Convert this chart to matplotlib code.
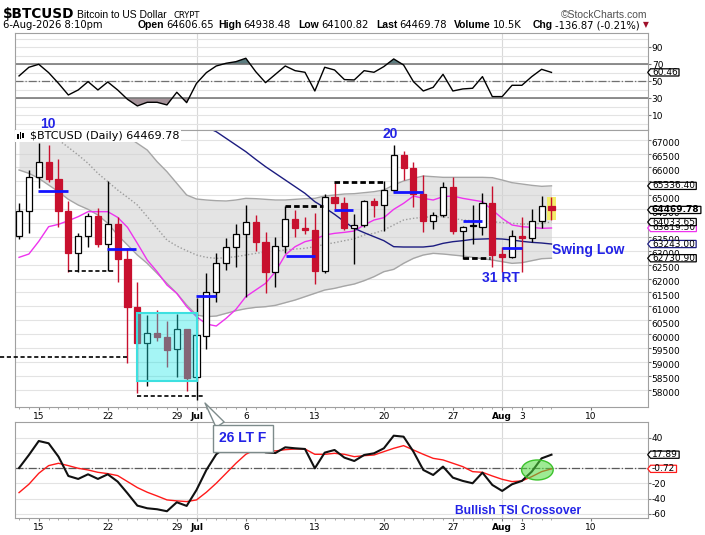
import numpy as np
import matplotlib
matplotlib.use("Agg")
import matplotlib.pyplot as plt
import matplotlib.transforms as mtransforms
from matplotlib.patches import Rectangle, Ellipse
from matplotlib.path import Path
from matplotlib.text import Annotation

plt.rcParams['font.family'] = ['DejaVu Sans']
plt.rcParams['axes.unicode_minus'] = False

# daily bars, day 0 = 13-Jun, day 54 = 6-Aug
days = list(range(55))
opens = [63543, 64419, 65643, 66183, 65583, 64443, 62907, 63531, 64239, 63243,
         63951, 62691, 60987, 59691, 60027, 59907, 59451, 60195, 58443, 59943,
         61503, 62547, 63123, 63591, 64023, 63327, 62247, 63183, 64143, 63807,
         63759, 62283, 64947, 64707, 63807, 63915, 64791, 64647, 65175, 66447,
         65991, 65043, 64083, 64299, 65307, 63723, 63915, 63867, 64731, 62883,
         62787, 63531, 63471, 64071, 64606.65]
highs = [64731, 65907, 66891, 66795, 66291, 64779, 63651, 64347, 64527, 65511,
         64227, 63111, 61890, 60687, 60867, 60483, 60723, 60195, 61287, 62211,
         62931, 63447, 63951, 64647, 64287, 63687, 63507, 64611, 64467, 64203,
         64371, 65043, 65487, 64923, 64323, 64827, 64887, 65523, 66807, 66603,
         66207, 65727, 64407, 65487, 65643, 63891, 64647, 65067, 65331, 63147,
         63747, 64227, 64491, 64971, 64938.48]
lows = [63423, 63651, 65271, 65487, 63867, 62247, 62247, 63147, 63147, 62283,
        61890, 58971, 57891, 58131, 59763, 58827, 58443, 57963, 57627, 59475,
        61167, 62307, 62427, 61347, 62991, 61491, 61683, 62907, 63507, 63603,
        61791, 62211, 64491, 63747, 62523, 63867, 64227, 63711, 65127, 65547,
        64587, 63687, 63771, 64227, 63591, 62691, 63231, 63567, 62403, 62247,
        62740, 62247, 63327, 63807, 64100.82]
closes = [64431, 65643, 66183, 65583, 64443, 62907, 63531, 64239, 63243, 63951,
          62691, 60987, 59691, 60027, 59907, 59427, 60171, 58407, 59967, 61503,
          62571, 63123, 63591, 64023, 63327, 62247, 63183, 64143, 63807, 63759,
          62283, 64947, 64707, 63807, 63915, 64791, 64647, 65175, 66447, 65991,
          65043, 64083, 64299, 65307, 63723, 63867, 63880, 64731, 62847, 62787,
          63531, 63471, 64071, 64611, 64469.78]

bb_upper = [69900, 69800, 69700, 69500, 69200, 68900, 68600, 68300, 68000, 67650,
            67287, 67107, 66867, 66627, 66207, 65847, 65427, 65007, 64863, 64827,
            64803, 64791, 64827, 64887, 64875, 64851, 64827, 64827, 64851, 64875,
            64887, 64971, 65007, 65043, 65055, 65091, 65127, 65187, 65367, 65511,
            65607, 65691, 65667, 65643, 65643, 65643, 65643, 65643, 65631, 65547,
            65451, 65403, 65355, 65319, 65336.40]
bb_mid = [67900, 67750, 67600, 67400, 66987, 66723, 66447, 66147, 65787, 65487,
          65187, 64923, 64647, 64227, 63807, 63387, 63171, 63003, 62847, 62763,
          62727, 62751, 62787, 62847, 62907, 62955, 62991, 63027, 63063, 63087,
          63147, 63231, 63291, 63363, 63435, 63567, 63627, 63747, 63927, 64107,
          64167, 64203, 64227, 64227, 64167, 64107, 64083, 64071, 64047, 64011,
          63987, 63963, 63963, 63987, 64033.65]
bb_lower = [65907, 65787, 65607, 65367, 65127, 64851, 64647, 64491, 64287, 63987,
            63567, 63207, 62847, 62547, 62187, 61827, 61467, 61047, 60687, 60627,
            60651, 60747, 60843, 60915, 60963, 60987, 61035, 61131, 61227, 61347,
            61467, 61587, 61647, 61731, 61803, 61923, 62067, 62247, 62331, 62547,
            62727, 62847, 62907, 62883, 62847, 62811, 62763, 62715, 62667, 62607,
            62547, 62571, 62643, 62715, 62730.90]
ema = [62763, 62883, 63339, 63867, 63951, 64083, 64227, 64407, 64407, 64407,
       64203, 63843, 63267, 62667, 62247, 61767, 61467, 60987, 60627, 60363,
       60291, 60567, 60891, 61347, 61587, 61827, 62247, 62847, 63147, 63327,
       63411, 63567, 63627, 63663, 63711, 63927, 64107, 64191, 64491, 64707,
       64971, 64887, 64827, 64947, 64971, 64887, 64827, 64767, 64467, 64167,
       63927, 63867, 63843, 63807, 63819.50]
sma50 = [np.nan] * 19 + [
         67443, 67287, 67047, 66807, 66567, 66291, 66027, 65787, 65547, 65307,
         65067, 64767, 64551, 64311, 64047, 63807, 63651, 63507, 63363, 63147,
         63135, 63135, 63135, 63171, 63267, 63327, 63363, 63411, 63423, 63435,
         63423, 63387, 63339, 63303, 63279, 63243.00]

rsi = [56.3, 66.5, 70, 60.2, 47.6, 33.9, 39.8, 49.6, 39.8, 49.2,
       39.8, 28.8, 21, 25.3, 25.3, 22.2, 37.1, 24.9, 47.6, 60.2,
       68, 71.2, 73.1, 77.1, 61.4, 48.4, 58.2, 68, 62.5, 60.6,
       38.6, 66.5, 63.3, 52, 51.6, 62.5, 60.6, 67.3, 76.3, 69.2,
       49.6, 38.6, 42.9, 58.2, 38.6, 41, 41.8, 55.5, 32, 32,
       45.3, 45.3, 55.5, 64.1, 60.46]
tsi = [0.4, 17.5, 35.9, 32.9, 15.3, -10.1, -14, -7.9, -14, -7.9,
       -17.5, -32.9, -49.1, -52.6, -53.9, -56.5, -44.7, -49.5, -28.5, -2.2,
       18.4, 28.5, 31.5, 30.7, 26.3, 21, 20.1, 27.6, 26.3, 25.4,
       0, 20.6, 24.1, 14, 9.6, 17.5, 19.7, 26.3, 42.9, 41.6,
       21.9, -2.2, -8.8, 2.2, -12.3, -16.6, -19.7, -5.7, -21.9, -29.8,
       -21, -16.6, -4.4, 13.1, 17.89]
tsi_signal = [-32, -21, -6.6, 3.5, 6.6, 3.5, 0, -2.2, -5.3, -7,
              -9.6, -17.5, -25.4, -31.5, -36.4, -41.6, -42.9, -43.8, -41.6, -31.5,
              -19.7, -6.6, 6.6, 18.4, 25, 24.1, 22.8, 24.5, 25.4, 25.4,
              18.4, 18.4, 19.7, 18.4, 15.3, 16.6, 17.5, 21.9, 26.3, 29.8,
              24.1, 18.4, 13.1, 11, 6.6, 2.2, -4.4, -5.3, -10.1, -14.5,
              -17.5, -16.6, -11, -4.4, -0.72]

tick_days = [2, 9, 16, 18, 23, 30, 37, 44, 49, 51, 58]
tick_labels = ['15', '22', '29', 'Jul', '6', '13', '20', '27', 'Aug', '3', '10']
month_days = [18, 49]
tsi_ticks = [-60, -40, -20, 0, 20, 40]
tsi_tick_labels = ['-60', '-40', '-20', '', '', '40']  # 0 and 20 sit under the value tags

# hand drawn pivot marks on the price panel
blue_start = [1.96, 8.9, 17.95, 27.05, 31.95, 37.96, 45.0, 49.0]
blue_end = [5.0, 11.9, 19.98, 30.0, 33.9, 40.94, 46.93, 50.98]
blue_price = [65163, 63075, 61383, 62823, 64479, 65103, 64083, 63111]
dash_start = [5.0, -1.93, 11.94, 26.98, 31.95, 45.0]
dash_end = [9.74, 11.0, 18.86, 30.86, 36.95, 47.77]
dash_price = [62283, 59163, 57771, 64611, 65463, 62751]
box_days = [11.94, 18.08]
box_prices = [58323, 60747]

RED = '#c8102e'
BLUE = '#2323e6'
GRID = '#e3e3e3'
SPINE = '#a0a0a0'
NARROW = ['Liberation Sans Narrow', 'Liberation Sans']

fig = plt.figure(figsize=(7.05, 5.35), dpi=100)


def panel(top, bottom):
    return fig.add_axes([14.7 / 705, 1 - bottom / 535, 633.6 / 705, (bottom - top) / 535])


def px(x, y):
    return x / 705, 1 - y / 535


ax_rsi = panel(33, 129.5)
ax = panel(129.5, 406.7)
ax_tsi = panel(421.7, 518.3)

for a in (ax_rsi, ax, ax_tsi):
    a.set_xlim(-0.44, 63.82)
    for s in a.spines.values():
        s.set_color(SPINE)
    a.set_axisbelow(True)
    a.yaxis.tick_right()
    a.tick_params(axis='y', which='major', length=2, pad=0.5, labelsize=6.5, color='#777777')
    a.tick_params(axis='y', which='minor', length=0)
    for d in month_days:
        a.axvline(d, color='#d9d9d9', lw=0.8, zorder=0.5)

for a in (ax, ax_tsi):
    a.set_xticks(tick_days)
    a.set_xticklabels(tick_labels)
    a.set_xticks(days, minor=True)
    a.tick_params(axis='x', which='major', length=2, pad=1.5, labelsize=6.5, color='#777777')
    a.tick_params(axis='x', which='minor', length=1.2, color='#999999')
    for lbl in a.get_xticklabels():
        if lbl.get_text() in ('Jul', 'Aug'):
            lbl.set_fontweight('bold')
ax_rsi.set_xticks([])


def tag_box(x0, y0, width, height, mutation_size):
    x0 -= 0.15 * mutation_size
    width += 0.3 * mutation_size
    y0 += 0.1 * height
    height *= 0.8
    tip = 0.4 * height
    verts = [(x0, y0), (x0 + width, y0), (x0 + width, y0 + height),
             (x0, y0 + height), (x0 - tip, y0 + height / 2), (x0, y0)]
    return Path(verts, closed=True)


def value_tag(axis, value, text, edge='black', bold=False, z=8):
    axis.annotate(text, xy=(1, value), xycoords=axis.get_yaxis_transform(),
                  xytext=(2.6, 0), textcoords='offset points', va='center', ha='left',
                  fontsize=6.5, fontweight='bold' if bold else 'normal',
                  bbox=dict(boxstyle=tag_box, fc='white', ec=edge, lw=0.9),
                  annotation_clip=False, zorder=z)


# ---------------- RSI panel ----------------
ax_rsi.set_ylim(-6.7, 106.8)
ax_rsi.set_yticks([10, 30, 50, 70, 90])
ax_rsi.set_yticks([0, 20, 40, 60, 80, 100], minor=True)
ax_rsi.grid(axis='y', which='both', color=GRID, lw=0.8)
ax_rsi.axhline(70, color='#707070', lw=1.1)
ax_rsi.axhline(30, color='#707070', lw=1.1)
ax_rsi.axhline(50, color='#707070', lw=0.9, ls='-.')
rsi_arr = np.array(rsi)
ax_rsi.fill_between(days, 70, rsi_arr, where=rsi_arr > 70, interpolate=True, color='#5b7c80', lw=0)
ax_rsi.fill_between(days, 30, rsi_arr, where=rsi_arr < 30, interpolate=True, color='#a5939a', lw=0)
ax_rsi.plot(days, rsi, color='black', lw=1)
value_tag(ax_rsi, rsi[-1], '60.46')

# ---------------- price panel ----------------
ax.set_ylim(57387, 67365)
ax.set_yticks(range(58000, 67001, 500))
ax.grid(axis='y', color=GRID, lw=0.8)
shift = mtransforms.ScaledTranslation(0, -0.03, fig.dpi_scale_trans)
for tick in ax.yaxis.get_major_ticks():
    tick.label2.set_transform(tick.label2.get_transform() + shift)

ax.fill_between(days, bb_lower, bb_upper, color='#cfcfcf', alpha=0.55, lw=0, zorder=1)
ax.plot(days, bb_upper, color='#a6a6a6', lw=1, zorder=1.5)
ax.plot(days, bb_lower, color='#a6a6a6', lw=1, zorder=1.5)
ax.plot(days, bb_mid, color='#9c9c9c', lw=1, ls=(0, (1, 1.5)), zorder=1.5)
ax.plot(days, ema, color='#ee33ee', lw=1, zorder=2)
ax.plot(days, sma50, color='#1c1c80', lw=1, zorder=2)

ax.add_patch(Rectangle((days[-1] - 0.42, lows[-1]), 0.88, highs[-1] - lows[-1],
                       fc='#f3ee6a', ec='none', zorder=2.5))

o = np.array(opens)
c = np.array(closes)
prev = np.r_[o[0], c[:-1]]
edge = np.where(c < prev, RED, 'black')
face = np.where(c < o, edge, 'white')
ax.vlines(days, lows, highs, colors=edge, lw=1, zorder=3)
ax.bar(days, np.maximum(np.abs(c - o), 25), bottom=np.minimum(o, c), width=0.62,
       color=face, edgecolor=edge, lw=0.9, zorder=4)

ax.hlines(blue_price, blue_start, blue_end, colors='#1414ff', lw=2, zorder=5)
for i, (s, e, p) in enumerate(zip(dash_start, dash_end, dash_price)):
    thick = i >= 3
    ax.plot([s, e], [p, p], color='black', lw=2 if thick else 1.2,
            ls=(0, (2, 1.1)) if thick else (0, (2.5, 1.6)), zorder=5, clip_on=False)

ax.add_patch(Rectangle((box_days[0], box_prices[0]), box_days[1] - box_days[0],
                       box_prices[1] - box_prices[0], fc=(0.12, 0.9, 0.9, 0.4),
                       ec='#3ee0e0', lw=1.5, zorder=6))

# panel title strip
ax.add_patch(Rectangle((0, 1 - 12.5 / 277.2), 166 / 633.6, 12.5 / 277.2,
                       transform=ax.transAxes, fc='white', ec='none', zorder=7))
for k, (y0, h) in enumerate([(4, 5), (2.5, 7), (3.5, 4.5)]):
    ax.add_patch(Rectangle(((2.2 + 2.8 * k) / 633.6, 1 - (y0 + h) / 277.2), 1.8 / 633.6,
                           h / 277.2, transform=ax.transAxes, fc='black', ec='none', zorder=8))
ax.text(15.5 / 633.6, 1 - 6.5 / 277.2, '$BTCUSD (Daily) 64469.78', transform=ax.transAxes,
        fontsize=8, va='center', ha='left', zorder=8)

value_tag(ax, 65336.40, '65336.40')
value_tag(ax, 62730.90, '62730.90')
value_tag(ax, 63243.00, '63243.00', edge='#1c1c80')
value_tag(ax, 63819.50, '63819.50', edge='#ee33ee')
value_tag(ax, 64033.65, '64033.65', z=9)
value_tag(ax, closes[-1], '64469.78', bold=True, z=10)

ann = dict(color=BLUE, fontweight='bold', family=['Liberation Sans'], zorder=9, clip_on=False)
ax.text(2.94, 67552, '10', fontsize=10, ha='center', va='center', **ann)
ax.text(37.6, 67214, '20', fontsize=10, ha='center', va='center', **ann)
ax.text(48.9, 62019, '31 RT', fontsize=10, ha='center', va='center', **ann)
ax.text(54.1, 63027, 'Swing Low', fontsize=10, ha='left', va='center', **ann)

# ---------------- TSI panel ----------------
ax_tsi.set_ylim(-65.8, 61.3)
ax_tsi.set_yticks(tsi_ticks)
ax_tsi.set_yticklabels(tsi_tick_labels)
ax_tsi.grid(axis='y', color=GRID, lw=0.8)
ax_tsi.axhline(0, color='#5a5a5a', lw=0.9, ls='-.')
ax_tsi.plot(days, tsi_signal, color='#ff1a1a', lw=1, zorder=3)
ax_tsi.plot(days, tsi, color='#111111', lw=1.5, zorder=3)
ax_tsi.add_patch(Ellipse((52.57, -2.2), 3.2, 26.3, fc=(0.31, 0.86, 0.24, 0.55),
                         ec='#3cc22c', lw=1, zorder=5))
value_tag(ax_tsi, tsi_signal[-1], '-0.72', edge='#ff1a1a')
value_tag(ax_tsi, tsi[-1], '17.89', z=9)
ax_tsi.text(50.6, -55.8, 'Bullish TSI Crossover', fontsize=8.7, ha='center', va='center', **ann)

ax_tsi.annotate('26 LT F', xy=(18.86, 57519), xycoords=ax.transData,
                xytext=(22.7, 39.2), textcoords='data', ha='center', va='center',
                fontsize=10, color=BLUE, fontweight='bold', family=['Liberation Sans'],
                bbox=dict(boxstyle='square,pad=0.45', fc='white', ec='#7d8b8b', lw=1),
                arrowprops=dict(arrowstyle='wedge,tail_width=0.7,shrink_factor=0.5',
                                fc='white', ec='#7d8b8b', lw=1, relpos=(0.12, 1.0),
                                shrinkA=0, shrinkB=0),
                annotation_clip=False, zorder=9)

# ---------------- header ----------------
fig.text(*px(3, 18.3), '$BTCUSD', fontsize=9.8, fontweight='bold', va='baseline')
fig.text(*px(77, 18.3), 'Bitcoin to US Dollar', fontsize=7.5, family=['Liberation Sans'], va='baseline')
fig.text(*px(173, 18.3), 'CRYPT', fontsize=6, va='baseline')
fig.text(*px(647, 18.3), '\u00a9StockCharts.com', fontsize=7.5, family=['Liberation Sans'],
         color='#505050', ha='right', va='baseline')
fig.text(*px(3, 28.3), '6-Aug-2026 8:10pm', fontsize=7.2, va='baseline')

header_keys = ['Open', 'High', 'Low', 'Last', 'Volume', 'Chg']
header_vals = ['64606.65', '64938.48', '64100.82', '64469.78', '10.5K', '-136.87 (-0.21%)']
header_x = [138, 218, 298, 376, 454, 533]
last = None
for key, val, x in zip(header_keys, header_vals, header_x):
    kt = fig.text(*px(x, 28.3), key, fontsize=7.5, fontweight='bold', family=NARROW, va='baseline')
    last = Annotation(val, xy=(1, 0), xycoords=kt, xytext=(1.5, 0), textcoords='offset points',
                      va='bottom', ha='left', fontsize=7.2)
    fig.add_artist(last)
fig.add_artist(Annotation('\u25bc', xy=(1, 0.15), xycoords=last, xytext=(2, 0),
                          textcoords='offset points', va='bottom', ha='left',
                          fontsize=5.5, color='#a0102a'))

fig.savefig('out.png', dpi=100)
